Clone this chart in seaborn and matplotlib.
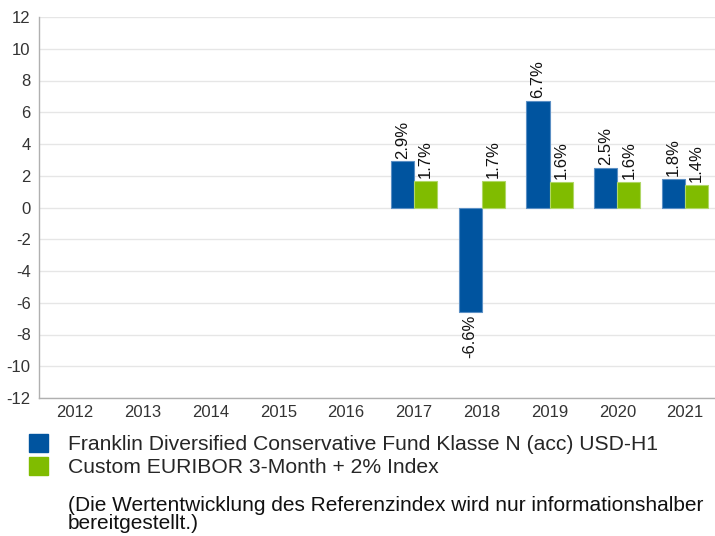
import matplotlib
matplotlib.use('Agg')
import matplotlib.pyplot as plt
from matplotlib.patches import Patch
import numpy as np
import pandas as pd
import seaborn as sns

years = ['2012', '2013', '2014', '2015', '2016', '2017', '2018', '2019', '2020', '2021']
data_years = ['2017', '2018', '2019', '2020', '2021']
fund_values = [2.9, -6.6, 6.7, 2.5, 1.8]
index_values = [1.7, 1.7, 1.6, 1.6, 1.4]
fund_name = 'Franklin Diversified Conservative Fund Klasse N (acc) USD-H1'
index_name = 'Custom EURIBOR 3-Month + 2% Index'
note = '(Die Wertentwicklung des Referenzindex wird nur informationshalber\nbereitgestellt.)'

colors = ['#00549f', '#80bc00']
edges = ['#5b8fc4', '#b0d766']

df = pd.DataFrame({
    'year': data_years * 2,
    'value': fund_values + index_values,
    'series': [fund_name] * 5 + [index_name] * 5,
})

sns.set_style('white')
plt.rcParams['font.family'] = ['Liberation Sans', 'DejaVu Sans']
plt.rcParams['axes.unicode_minus'] = False

fig = plt.figure(figsize=(7.15, 5.36), dpi=100)
# axis runs a little past the right edge, like the original
ax = fig.add_axes([39 / 715, 1 - 398 / 536, 680 / 715, 381 / 536])

sns.barplot(data=df, x='year', y='value', hue='series', order=years,
            hue_order=[fund_name, index_name], palette=colors, saturation=1,
            width=0.68, ax=ax, legend=False, errorbar=None)

for cont, ec in zip(ax.containers, edges):
    for bar in cont:
        bar.set_edgecolor(ec)
        bar.set_linewidth(0.8)
    ax.bar_label(cont, labels=[f'{v:.1f}%' for v in cont.datavalues],
                 rotation=90, padding=2, fontsize=12, color='#111111')

ax.set_ylim(-12, 12)
ax.set_yticks(np.arange(-12, 13, 2))
ax.set_xlim(-0.53, 9.5)
ax.set_xlabel('')
ax.set_ylabel('')
ax.yaxis.grid(True, color='#e6e6e6', linewidth=1)
ax.set_axisbelow(True)
ax.tick_params(axis='both', length=0, labelsize=12, colors='#333333')
ax.tick_params(axis='x', pad=5)
ax.tick_params(axis='y', pad=6)
for side in ['top', 'right']:
    ax.spines[side].set_visible(False)
for side in ['left', 'bottom']:
    ax.spines[side].set_color('#b0b0b0')
    ax.spines[side].set_linewidth(1)

handles = [Patch(facecolor=colors[0], edgecolor=colors[0]),
           Patch(facecolor=colors[1], edgecolor=colors[1])]
fig.legend(handles, [fund_name, index_name], loc='upper left',
           bbox_to_anchor=(29 / 715, 1 - 434 / 536), frameon=False,
           fontsize=15.2, handlelength=0.9, handleheight=0.9,
           handletextpad=0.95, labelspacing=0.15, borderaxespad=0, borderpad=0)

fig.text(68 / 715, 3 / 536, note, fontsize=15, va='bottom', ha='left',
         linespacing=0.92, color='#111111')

fig.savefig('out.png', dpi=100)
